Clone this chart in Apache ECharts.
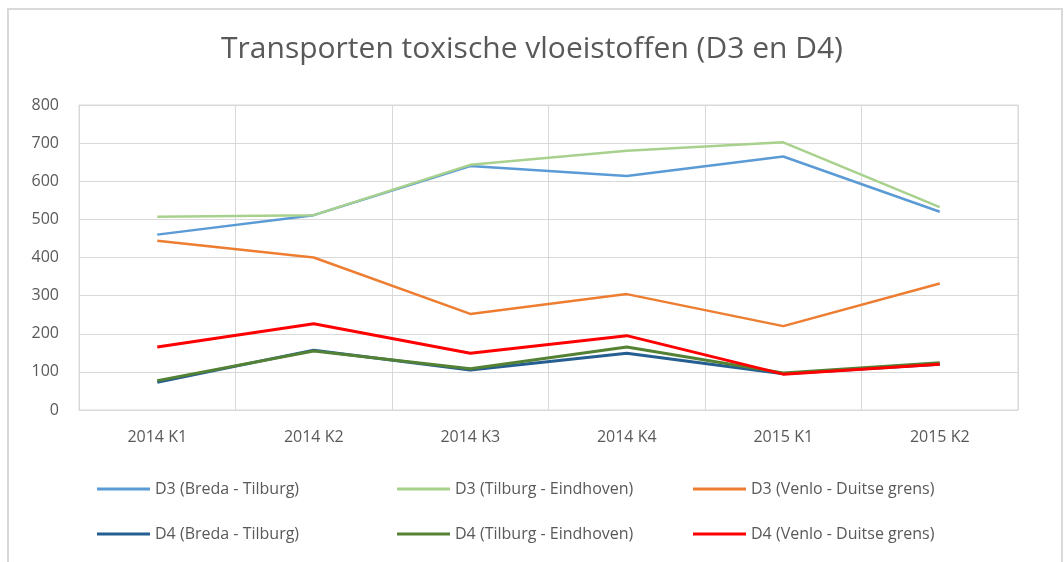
<!DOCTYPE html>
<html>
<head>
  <meta charset="utf-8">
  <title>Transporten toxische vloeistoffen</title>
  <script src="https://cdn.jsdelivr.net/npm/echarts@6/dist/echarts.min.js"></script>
  <style>
    html, body { margin: 0; padding: 0; background: #fff; }
    #chart { width: 1064px; height: 562px; }
  </style>
</head>
<body>
  <div id="chart"></div>
<script>
  var categories = ['2014 K1', '2014 K2', '2014 K3', '2014 K4', '2015 K1', '2015 K2'];

  var d3Breda = [460, 511, 640, 614, 665, 520];
  var d3Tilburg = [507, 511, 643, 680, 702, 532];
  var d3Venlo = [444, 400, 252, 304, 220, 332];
  var d4Breda = [73, 157, 105, 149, 95, 120];
  var d4Tilburg = [77, 155, 108, 165, 97, 124];
  var d4Venlo = [165, 226, 149, 195, 94, 120];

  var seriesNames = [
    'D3 (Breda - Tilburg)', 'D3 (Tilburg - Eindhoven)', 'D3 (Venlo - Duitse grens)',
    'D4 (Breda - Tilburg)', 'D4 (Tilburg - Eindhoven)', 'D4 (Venlo - Duitse grens)'
  ];
  var seriesData = [d3Breda, d3Tilburg, d3Venlo, d4Breda, d4Tilburg, d4Venlo];
  var colors = ['#5B9BD5', '#A9D18E', '#ED7D31', '#255E91', '#548235', '#FF0000'];
  var widths = [2.5, 2.5, 2.5, 3, 3, 3];

  var font = "'Open Sans', 'Liberation Sans', sans-serif";
  var textColor = '#595959';

  // legend positions: 3 columns, 2 rows
  var legendLeft = [97, 397, 693];
  var legendTop = [481, 526];

  var legends = seriesNames.map(function (name, i) {
    return {
      data: [name],
      left: legendLeft[i % 3],
      top: legendTop[Math.floor(i / 3)],
      padding: 0,
      icon: 'rect',
      itemWidth: 53,
      itemHeight: 3,
      itemGap: 3,
      textStyle: { color: textColor, fontSize: 16, fontFamily: font },
      selectedMode: false
    };
  });

  var series = seriesNames.map(function (name, i) {
    return {
      name: name,
      type: 'line',
      data: seriesData[i],
      symbol: 'none',
      color: colors[i],
      lineStyle: { width: widths[i], color: colors[i] }
    };
  });

  var chart = echarts.init(document.getElementById('chart'));
  chart.setOption({
    animation: false,
    title: {
      text: 'Transporten toxische vloeistoffen (D3 en D4)',
      left: 'center',
      top: 29,
      textStyle: { color: textColor, fontSize: 30, fontWeight: 'normal', fontFamily: font }
    },
    graphic: [{
      type: 'rect',
      shape: { x: 8, y: 9, width: 1054, height: 560 },
      style: { fill: 'none', stroke: '#d9d9d9', lineWidth: 2 },
      silent: true
    }],
    legend: legends,
    grid: {
      left: 79, right: 46, top: 105, bottom: 152,
      show: true, borderColor: '#d9d9d9', borderWidth: 1,
      containLabel: false
    },
    xAxis: {
      type: 'category',
      data: categories,
      boundaryGap: true,
      axisLine: { lineStyle: { color: '#d9d9d9' } },
      axisTick: { show: false },
      axisLabel: { color: textColor, fontSize: 16, fontFamily: font, margin: 19 },
      splitLine: { show: true, lineStyle: { color: '#d9d9d9', width: 1 } }
    },
    yAxis: {
      type: 'value',
      min: 0, max: 800, interval: 100,
      axisLine: { show: false },
      axisTick: { show: false },
      axisLabel: { color: textColor, fontSize: 16, fontFamily: font, margin: 20 },
      splitLine: { lineStyle: { color: '#d9d9d9', width: 1 } }
    },
    series: series
  });
</script>
</body>
</html>
